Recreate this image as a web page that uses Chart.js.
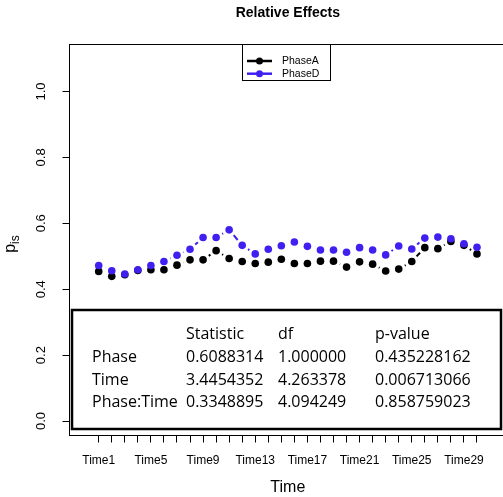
<!DOCTYPE html>
<html><head><meta charset="utf-8">
<script src="https://cdn.jsdelivr.net/npm/chart.js@4.4.1/dist/chart.umd.min.js"></script>
<style>
html,body{margin:0;padding:0;background:#fff;overflow:hidden;width:503px;height:497px}
#wrap{width:510px;height:497px;position:relative}
canvas{display:block}
</style></head><body><div id="wrap"><canvas id="c" width="510" height="497"></canvas></div>
<script>
// ---- data ----
const categories = ['Time1','Time2','Time3','Time4','Time5','Time6','Time7','Time8','Time9','Time10',
  'Time11','Time12','Time13','Time14','Time15','Time16','Time17','Time18','Time19','Time20',
  'Time21','Time22','Time23','Time24','Time25','Time26','Time27','Time28','Time29','Time30'];
const xTickLabels = ['Time1','Time5','Time9','Time13','Time17','Time21','Time25','Time29'];
const yTicks = [0.0, 0.2, 0.4, 0.6, 0.8, 1.0];
const seriesNames = ['PhaseA', 'PhaseD'];
const phaseA = [0.454,0.439,0.444,0.457,0.459,0.459,0.473,0.489,0.489,0.517,
  0.493,0.484,0.478,0.482,0.491,0.478,0.478,0.485,0.485,0.467,
  0.483,0.476,0.455,0.461,0.484,0.526,0.523,0.545,0.533,0.507];
const phaseD = [0.472,0.456,0.446,0.459,0.472,0.484,0.503,0.521,0.557,0.557,
  0.580,0.533,0.507,0.521,0.532,0.543,0.530,0.519,0.519,0.512,
  0.526,0.519,0.504,0.531,0.522,0.555,0.558,0.553,0.538,0.527];
const tableColumns = ['Statistic', 'df', 'p-value'];
const tableRows = ['Phase', 'Time', 'Phase:Time'];
const tableStatistic = ['0.6088314', '3.4454352', '0.3348895'];
const tableDf = ['1.000000', '4.263378', '4.094249'];
const tablePValue = ['0.435228162', '0.006713066', '0.858759023'];

const colors = ['#000000', '#3f20f0'];
const SANS = '"Liberation Sans", Arial, Helvetica, sans-serif';

// type="b" style lines: segments shortened around the points
const gapLines = {
  id: 'gapLines',
  beforeDatasetDraw(chart, args) {
    const ds = chart.data.datasets[args.index];
    const pts = args.meta.data;
    const ctx = chart.ctx, gap = 7;
    ctx.save();
    ctx.strokeStyle = ds.borderColor; ctx.lineWidth = 2; ctx.lineCap = 'butt';
    for (let i = 0; i < pts.length - 1; i++) {
      const a = pts[i], b = pts[i + 1];
      const dx = b.x - a.x, dy = b.y - a.y, d = Math.hypot(dx, dy);
      if (d <= 2 * gap) continue;
      const ux = dx / d, uy = dy / d;
      ctx.beginPath();
      ctx.moveTo(a.x + ux * gap, a.y + uy * gap);
      ctx.lineTo(b.x - ux * gap, b.y - uy * gap);
      ctx.stroke();
    }
    ctx.restore();
  }
};

const frame = {
  id: 'frame',
  beforeDatasetsDraw(chart) {
    const {ctx, chartArea: a} = chart;
    ctx.save();
    ctx.strokeStyle = '#000'; ctx.lineWidth = 1;
    const l = Math.floor(a.left) + 0.5, t = Math.floor(a.top) + 0.5;
    const r = Math.floor(a.right) + 0.5, b = Math.floor(a.bottom) + 0.5;
    ctx.strokeRect(l, t, r - l, b - t);
    ctx.restore();
  }
};

const extras = {
  id: 'extras',
  afterDraw(chart) {
    const {ctx, chartArea: a} = chart;
    ctx.save();
    // legend
    const cx = (a.left + a.right) / 2;
    const lx = Math.round(cx - 46) + 0.5, ly = Math.floor(a.top) + 0.5;
    ctx.fillStyle = '#fff';
    ctx.fillRect(lx, ly, 88, 36);
    ctx.strokeStyle = '#000'; ctx.lineWidth = 1;
    ctx.strokeRect(lx, ly, 88, 36);
    chart.data.datasets.forEach((ds, i) => {
      const y = ly + 16.5 + i * 12.7;
      ctx.strokeStyle = ds.borderColor; ctx.lineWidth = 2.5;
      ctx.beginPath(); ctx.moveTo(lx + 4.5, y); ctx.lineTo(lx + 29.5, y); ctx.stroke();
      ctx.fillStyle = ds.backgroundColor;
      ctx.beginPath(); ctx.arc(lx + 17, y, 3.5, 0, Math.PI * 2); ctx.fill();
      ctx.fillStyle = '#000';
      ctx.font = '10.5px ' + SANS; ctx.textBaseline = 'middle'; ctx.textAlign = 'left';
      ctx.fillText(ds.label, lx + 39.5, y);
    });
    // y axis title p_is
    ctx.save();
    ctx.translate(15, 244);
    ctx.rotate(-Math.PI / 2);
    ctx.fillStyle = '#000'; ctx.textBaseline = 'alphabetic'; ctx.textAlign = 'left';
    ctx.font = '16px ' + SANS;
    const w1 = ctx.measureText('p').width;
    ctx.font = '12px ' + SANS;
    const w2 = ctx.measureText('is').width;
    ctx.font = '16px ' + SANS;
    ctx.fillText('p', -(w1 + w2) / 2, 0);
    ctx.font = '12px ' + SANS;
    ctx.fillText('is', -(w1 + w2) / 2 + w1, 4);
    ctx.restore();
    // statistics table
    const tx = 72, ty = 310, tw = 429, th = 119;
    ctx.fillStyle = '#fff'; ctx.fillRect(tx, ty, tw, th);
    ctx.strokeStyle = '#000'; ctx.lineWidth = 2.5; ctx.strokeRect(tx, ty, tw, th);
    ctx.fillStyle = '#000'; ctx.font = '16px "Open Sans", sans-serif';
    ctx.textBaseline = 'alphabetic'; ctx.textAlign = 'left';
    const colX = [186, 278, 375];
    tableColumns.forEach((c, j) => ctx.fillText(c, colX[j], 338.5));
    const rowY = [361.5, 384.5, 407];
    tableRows.forEach((r, i) => {
      ctx.fillText(r, 92, rowY[i]);
      ctx.fillText(tableStatistic[i], colX[0], rowY[i]);
      ctx.fillText(tableDf[i], colX[1], rowY[i]);
      ctx.fillText(tablePValue[i], colX[2], rowY[i]);
    });
    ctx.restore();
  }
};

new Chart(document.getElementById('c'), {
  type: 'line',
  data: {
    datasets: [
      {label: seriesNames[0], data: phaseA.map((v, i) => ({x: i + 1, y: v})),
       borderColor: colors[0], backgroundColor: colors[0], showLine: false,
       pointRadius: 3.8, pointHoverRadius: 3.8, pointBorderWidth: 0, order: 1},
      {label: seriesNames[1], data: phaseD.map((v, i) => ({x: i + 1, y: v})),
       borderColor: colors[1], backgroundColor: colors[1], showLine: false,
       pointRadius: 3.8, pointHoverRadius: 3.8, pointBorderWidth: 0, order: 0}
    ]
  },
  options: {
    responsive: false, animation: false, devicePixelRatio: 1,
    layout: {padding: {left: 0, right: 3.5, top: 5, bottom: 0}},
    events: [],
    plugins: {
      legend: {display: false}, tooltip: {enabled: false},
      title: {display: true, text: 'Relative Effects', fullSize: false, color: '#000',
        font: {family: SANS, size: 14, weight: 'bold', lineHeight: 1.2},
        padding: {top: 0, bottom: 22.2}}
    },
    scales: {
      x: {
        type: 'linear', min: -1.24, max: 32.24,
        afterBuildTicks: s => { s.ticks = categories.map((c, i) => ({value: i + 1})); },
        afterFit: s => { s.height = 61.5; },
        ticks: {autoSkip: false, maxRotation: 0, minRotation: 0, padding: 11, color: '#000',
          font: {family: SANS, size: 12},
          callback: v => { const l = categories[Math.round(v) - 1]; return xTickLabels.includes(l) ? l : ''; }},
        grid: {drawOnChartArea: false, drawTicks: true, tickLength: 7, color: '#000', lineWidth: 1},
        border: {display: false},
        title: {display: true, text: 'Time', color: '#000', font: {family: SANS, size: 16, lineHeight: 1.2},
          padding: {top: 0, bottom: 0}}
      },
      y: {
        min: -0.044, max: 1.144,
        afterBuildTicks: s => { s.ticks = yTicks.map(v => ({value: v})); },
        afterFit: s => { s.width = 69.5; },
        ticks: {minRotation: 90, maxRotation: 90, crossAlign: 'center', padding: 12.5, color: '#000',
          font: {family: SANS, size: 13}, callback: v => v.toFixed(1)},
        grid: {drawOnChartArea: false, drawTicks: true, tickLength: 7, color: '#000', lineWidth: 1},
        border: {display: false}
      }
    }
  },
  plugins: [frame, gapLines, extras]
});
</script></body></html>
